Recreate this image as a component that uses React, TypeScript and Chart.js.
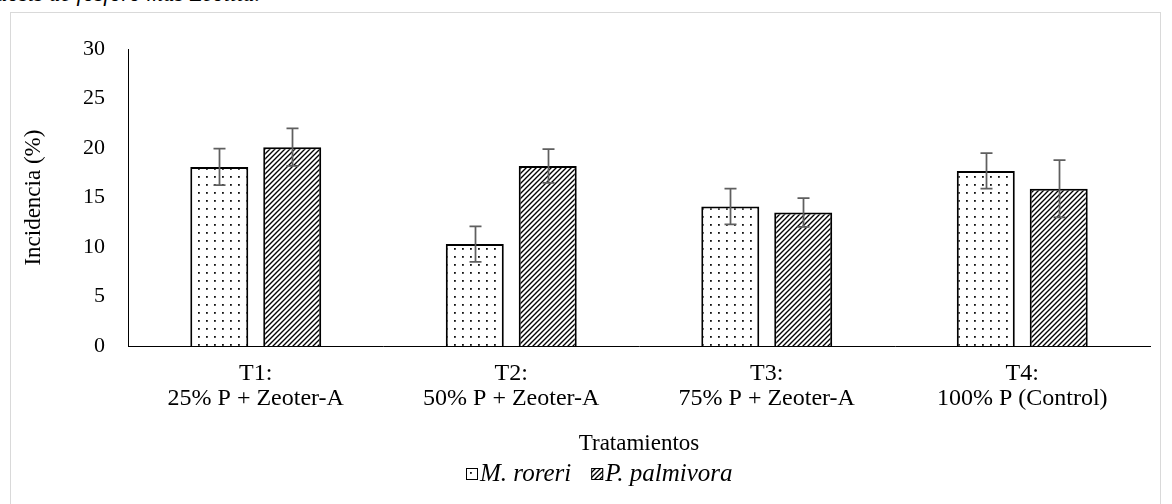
import React, { useEffect, useRef } from "react";
import { Chart, registerables } from "chart.js";

Chart.register(...registerables);

const categories: string[][] = [
  ["T1:", "25% P + Zeoter-A"],
  ["T2:", "50% P + Zeoter-A"],
  ["T3:", "75% P + Zeoter-A"],
  ["T4:", "100% P (Control)"],
];
const seriesNames = ["M. roreri", "P. palmivora"];
const roreriValues = [18.1, 10.3, 14.1, 17.7];
const roreriErrors = [1.85, 1.8, 1.8, 1.8];
const palmivoraValues = [20.1, 18.2, 13.5, 15.9];
const palmivoraErrors = [1.9, 1.7, 1.45, 2.9];
const yMin = 0;
const yMax = 30;
const yStep = 5;
const yTitle = "Incidencia (%)";
const xTitle = "Tratamientos";
const headerText = "dosis de fósforo más Zeolita.";

const FONT = "'Liberation Serif', 'Times New Roman', serif";
const FS = 23;
const FS_X = 24;
const FS_Y = 22;
const FS_LEG = 25;

function makeDots(): CanvasPattern {
  const c = document.createElement("canvas");
  c.width = 8;
  c.height = 8;
  const g = c.getContext("2d")!;
  g.fillStyle = "#ffffff";
  g.fillRect(0, 0, 8, 8);
  g.fillStyle = "#111111";
  g.fillRect(3, 3, 1.8, 1.8);
  return g.createPattern(c, "repeat")!;
}

function makeHatch(): CanvasPattern {
  const s = 5;
  const c = document.createElement("canvas");
  c.width = s;
  c.height = s;
  const g = c.getContext("2d")!;
  g.fillStyle = "#ffffff";
  g.fillRect(0, 0, s, s);
  g.strokeStyle = "#000000";
  g.lineWidth = 1.35;
  g.beginPath();
  g.moveTo(0, s);
  g.lineTo(s, 0);
  g.moveTo(-1, 1);
  g.lineTo(1, -1);
  g.moveTo(s - 1, s + 1);
  g.lineTo(s + 1, s - 1);
  g.stroke();
  return g.createPattern(c, "repeat")!;
}

const errorBarPlugin = {
  id: "errorBars",
  afterDatasetsDraw(chart: any) {
    const ctx = chart.ctx;
    const yScale = chart.scales.y;
    chart.data.datasets.forEach((ds: any, di: number) => {
      const meta = chart.getDatasetMeta(di);
      const errs: number[] = ds.errors || [];
      meta.data.forEach((bar: any, i: number) => {
        const v = ds.data[i];
        const e = errs[i];
        if (e == null) return;
        const x = Math.round(bar.x) + 0.5;
        const yTop = yScale.getPixelForValue(v + e);
        const yBot = yScale.getPixelForValue(v - e);
        ctx.save();
        ctx.strokeStyle = "#5f5f5f";
        ctx.lineWidth = 1.75;
        ctx.beginPath();
        ctx.moveTo(x, yTop);
        ctx.lineTo(x, yBot);
        ctx.moveTo(x - 6, yTop);
        ctx.lineTo(x + 6, yTop);
        ctx.moveTo(x - 6, yBot);
        ctx.lineTo(x + 6, yBot);
        ctx.stroke();
        ctx.restore();
      });
    });
  },
};

const legendPlugin = {
  id: "customLegend",
  afterDraw(chart: any) {
    const ctx = chart.ctx;
    const datasets = chart.data.datasets;
    const box = 12;
    const gapBoxText = 2;
    const gapItems = 20;
    ctx.save();
    ctx.font = `italic ${FS_LEG}px ${FONT}`;
    const widths = datasets.map((d: any) => ctx.measureText(d.label).width);
    const total =
      widths.reduce((a: number, b: number) => a + b, 0) +
      datasets.length * (box + gapBoxText) +
      (datasets.length - 1) * gapItems;
    const cx = 588;
    const cy = 461;
    let x = Math.round(cx - total / 2);
    const by = Math.round(cy - box / 2);
    datasets.forEach((d: any, i: number) => {
      ctx.fillStyle = d.backgroundColor;
      ctx.fillRect(x, by, box, box);
      ctx.strokeStyle = "#000";
      ctx.lineWidth = 1;
      ctx.strokeRect(x + 0.5, by + 0.5, box - 1, box - 1);
      x += box + gapBoxText;
      ctx.fillStyle = "#000";
      ctx.textBaseline = "middle";
      ctx.textAlign = "left";
      ctx.fillText(d.label, x, cy);
      x += widths[i] + gapItems;
    });
    ctx.restore();
  },
};

export default function App() {
  const ref = useRef<HTMLCanvasElement | null>(null);

  useEffect(() => {
    if (!ref.current) return;
    const chart = new Chart(ref.current, {
      type: "bar",
      data: {
        labels: categories,
        datasets: [
          {
            label: seriesNames[0],
            data: roreriValues,
            errors: roreriErrors,
            backgroundColor: makeDots(),
            borderColor: "#000000",
            borderWidth: 2,
            categoryPercentage: 0.571,
            barPercentage: 0.795,
          } as any,
          {
            label: seriesNames[1],
            data: palmivoraValues,
            errors: palmivoraErrors,
            backgroundColor: makeHatch(),
            borderColor: "#000000",
            borderWidth: 2,
            categoryPercentage: 0.571,
            barPercentage: 0.795,
          } as any,
        ],
      },
      options: {
        animation: false,
        responsive: false,
        devicePixelRatio: 1,
        layout: { padding: { top: 20, right: 11, bottom: 41, left: 0 } },
        plugins: {
          legend: { display: false },
          tooltip: { enabled: false },
        },
        scales: {
          x: {
            grid: { display: false, drawTicks: false },
            border: { display: true, color: "#000000", width: 1 },
            ticks: {
              color: "#000000",
              font: { family: FONT, size: FS_X, lineHeight: 1.05 },
              padding: 15,
              maxRotation: 0,
              autoSkip: false,
            },
            title: {
              display: true,
              text: xTitle,
              color: "#000000",
              font: { family: FONT, size: FS },
              padding: { top: 4, bottom: 4 },
            },
            afterFit: (s: any) => {
              s.height = 116;
            },
          },
          y: {
            min: yMin,
            max: yMax,
            grid: { display: false, drawTicks: false },
            border: { display: true, color: "#000000", width: 1 },
            ticks: {
              stepSize: yStep,
              color: "#000000",
              font: { family: FONT, size: FS_Y },
              padding: 23,
            },
            title: {
              display: true,
              text: yTitle,
              color: "#000000",
              font: { family: FONT, size: FS },
              padding: { top: 9, bottom: 6 },
            },
            afterFit: (s: any) => {
              s.width = 117;
            },
          },
        },
      },
      plugins: [errorBarPlugin, legendPlugin],
    });
    return () => chart.destroy();
  }, []);

  return (
    <div
      style={{
        position: "fixed",
        left: 0,
        top: 0,
        width: 1172,
        height: 504,
        background: "#ffffff",
        overflow: "hidden",
      }}
    >
      <div
        style={{
          position: "absolute",
          left: -4,
          top: -18,
          fontFamily: FONT,
          fontStyle: "italic",
          fontSize: FS,
          color: "#000",
          whiteSpace: "nowrap",
          lineHeight: "24px",
        }}
      >
        {headerText}
      </div>
      <div
        style={{
          position: "absolute",
          left: 10,
          top: 12,
          width: 1151,
          height: 500,
          border: "1px solid #d9d9d9",
          boxSizing: "border-box",
        }}
      />
      <canvas
        ref={ref}
        width={1150}
        height={490}
        style={{ position: "absolute", left: 11, top: 13, width: 1150, height: 490 }}
      />
    </div>
  );
}
